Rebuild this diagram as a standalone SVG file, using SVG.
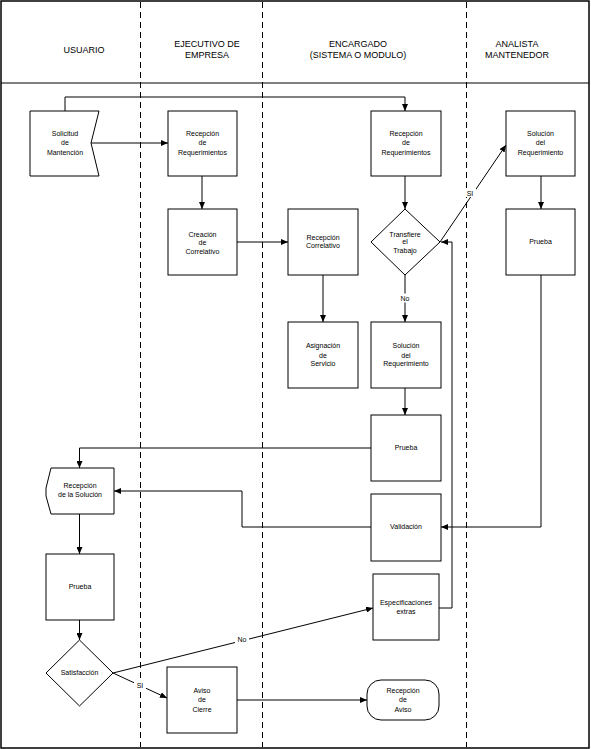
<svg xmlns="http://www.w3.org/2000/svg" width="591" height="749" viewBox="0 0 591 749">
<style>
.n{fill:#fff;stroke:#000;stroke-width:1}
.t{font-family:"Liberation Sans",Arial,sans-serif;font-size:7px;text-anchor:middle;fill:#000}
.h{font-family:"Liberation Sans",Arial,sans-serif;font-size:9px;text-anchor:middle;fill:#000}
.c{fill:none;stroke:#000;stroke-width:1}
.lane{stroke:#000;stroke-width:1;stroke-dasharray:6,4}
.lb{fill:#fff}
</style>
<defs>
<marker id="a" markerUnits="userSpaceOnUse" markerWidth="7" markerHeight="6" refX="7" refY="3" orient="auto">
<path d="M0,0 L7,3 L0,6 Z" fill="#000"/>
</marker>
</defs>
<rect x="0" y="0" width="591" height="749" fill="#fff"/>
<g id="frame">
<rect x="1" y="1" width="588" height="747" fill="none" stroke="#000" stroke-width="1.5"/>
<line x1="1" y1="83" x2="589" y2="83" stroke="#000" stroke-width="1"/>
<line class="lane" x1="140.5" y1="2" x2="140.5" y2="747"/>
<line class="lane" x1="262.5" y1="2" x2="262.5" y2="747"/>
<line class="lane" x1="466.5" y1="2" x2="466.5" y2="747"/>
</g>
<g id="headers">
<text class="h" x="84" y="53">USUARIO</text>
<text class="h" x="207" y="46.5">EJECUTIVO DE</text>
<text class="h" x="207" y="57.5">EMPRESA</text>
<text class="h" x="358" y="46.5">ENCARGADO</text>
<text class="h" x="358" y="57.5">(SISTEMA O MODULO)</text>
<text class="h" x="517" y="46.5">ANALISTA</text>
<text class="h" x="517" y="57.5">MANTENEDOR</text>
</g>
<g id="connectors">
<path class="c" d="M91,143 H168" marker-end="url(#a)"/>
<path class="c" d="M65,111 V97 H405 V111" marker-end="url(#a)"/>
<path class="c" d="M202,176 V209" marker-end="url(#a)"/>
<path class="c" d="M237,242 H288" marker-end="url(#a)"/>
<path class="c" d="M405,176 V209" marker-end="url(#a)"/>
<path class="c" d="M323,275 V322" marker-end="url(#a)"/>
<path class="c" d="M405,275 V322" marker-end="url(#a)"/>
<path class="c" d="M440,242 L506,145" marker-end="url(#a)"/>
<path class="c" d="M541,176 V209" marker-end="url(#a)"/>
<path class="c" d="M541,275 V527 H441" marker-end="url(#a)"/>
<path class="c" d="M405,388 V415" marker-end="url(#a)"/>
<path class="c" d="M371,448 H79.5 V468" marker-end="url(#a)"/>
<path class="c" d="M371,527 H242 V491 H114" marker-end="url(#a)"/>
<path class="c" d="M79.5,514 V554" marker-end="url(#a)"/>
<path class="c" d="M79.5,620 V640" marker-end="url(#a)"/>
<path class="c" d="M113,673 L373,608" marker-end="url(#a)"/>
<path class="c" d="M113,673 L167,698" marker-end="url(#a)"/>
<path class="c" d="M439,608 H452 V242 H441" marker-end="url(#a)"/>
<path class="c" d="M237,700 H367" marker-end="url(#a)"/>
<rect class="lb" x="464" y="188" width="12" height="9"/>
<text class="t" x="470" y="195.5">SI</text>
<rect class="lb" x="398" y="293.5" width="14" height="9"/>
<text class="t" x="405" y="300.5">No</text>
<rect class="lb" x="235" y="635" width="14" height="9"/>
<text class="t" x="242" y="642">No</text>
<rect class="lb" x="134" y="680.5" width="12" height="9"/>
<text class="t" x="140" y="687.5">SI</text>
</g>
<g id="solicitud">
<path class="n" d="M30,111 L99,111 L91,143 L99,176 L30,176 Z"/>
<text class="t" x="65" y="135.8">Solicitud</text>
<text class="t" x="65" y="145.2">de</text>
<text class="t" x="65" y="154.5">Mantención</text>
</g>
<g id="recep-req-ejec">
<rect class="n" x="168" y="111" width="69" height="65"/>
<text class="t" x="202.5" y="135.8">Recepción</text>
<text class="t" x="202.5" y="145.2">de</text>
<text class="t" x="202.5" y="154.5">Requerimientos</text>
</g>
<g id="creacion">
<rect class="n" x="168" y="209" width="69" height="66"/>
<text class="t" x="202.5" y="236.5">Creación</text>
<text class="t" x="202.5" y="245.2">de</text>
<text class="t" x="202.5" y="253.5">Correlativo</text>
</g>
<g id="recep-corr">
<rect class="n" x="288" y="209" width="70" height="66"/>
<text class="t" x="323" y="239.5">Recepción</text>
<text class="t" x="323" y="248.2">Correlativo</text>
</g>
<g id="asignacion">
<rect class="n" x="288" y="322" width="70" height="66"/>
<text class="t" x="323" y="348.2">Asignación</text>
<text class="t" x="323" y="357.5">de</text>
<text class="t" x="323" y="366">Servicio</text>
</g>
<g id="recep-req-enc">
<rect class="n" x="371" y="111" width="70" height="65"/>
<text class="t" x="406" y="135.8">Recepción</text>
<text class="t" x="406" y="145.2">de</text>
<text class="t" x="406" y="154.5">Requerimientos</text>
</g>
<g id="transfiere">
<path class="n" d="M405,209 L440,242 L405,275 L371,242 Z"/>
<text class="t" x="405" y="236.5">Transfiere</text>
<text class="t" x="405" y="244.2">el</text>
<text class="t" x="405" y="253.2">Trabajo</text>
</g>
<g id="solucion-enc">
<rect class="n" x="371" y="322" width="70" height="66"/>
<text class="t" x="406" y="348.2">Solución</text>
<text class="t" x="406" y="357.5">del</text>
<text class="t" x="406" y="366">Requerimiento</text>
</g>
<g id="prueba-enc">
<rect class="n" x="371" y="415" width="70" height="66"/>
<text class="t" x="406" y="450.2">Prueba</text>
</g>
<g id="validacion">
<rect class="n" x="371" y="494" width="70" height="67"/>
<text class="t" x="406" y="529.2">Validación</text>
</g>
<g id="especificaciones">
<rect class="n" x="373" y="574" width="66" height="66"/>
<text class="t" x="406" y="605.2">Especificaciones</text>
<text class="t" x="406" y="613.8">extras</text>
</g>
<g id="recep-aviso">
<rect class="n" x="367" y="680" width="72" height="40" rx="14" ry="14"/>
<text class="t" x="403" y="693.2">Recepción</text>
<text class="t" x="403" y="701.8">de</text>
<text class="t" x="403" y="711.5">Aviso</text>
</g>
<g id="solucion-ana">
<rect class="n" x="506" y="111" width="69" height="65"/>
<text class="t" x="540.5" y="135.8">Solución</text>
<text class="t" x="540.5" y="145.2">del</text>
<text class="t" x="540.5" y="154.5">Requerimiento</text>
</g>
<g id="prueba-ana">
<rect class="n" x="506" y="209" width="69" height="66"/>
<text class="t" x="540.5" y="244.2">Prueba</text>
</g>
<g id="recep-solucion">
<path class="n" d="M114,468 L51,468 L46,488 L46,496 L51,514 L114,514 Z"/>
<text class="t" x="80" y="488.2">Recepción</text>
<text class="t" x="80" y="496.8">de la Solución</text>
</g>
<g id="prueba-usu">
<rect class="n" x="46" y="554" width="68" height="66"/>
<text class="t" x="80" y="589.2">Prueba</text>
</g>
<g id="satisfaccion">
<path class="n" d="M79.5,640 L113,673 L79.5,706 L46,673 Z"/>
<text class="t" x="79.5" y="675.2">Satisfacción</text>
</g>
<g id="aviso-cierre">
<rect class="n" x="167" y="667" width="70" height="66"/>
<text class="t" x="202" y="693.2">Aviso</text>
<text class="t" x="202" y="701.8">de</text>
<text class="t" x="202" y="711.5">Cierre</text>
</g>
</svg>
